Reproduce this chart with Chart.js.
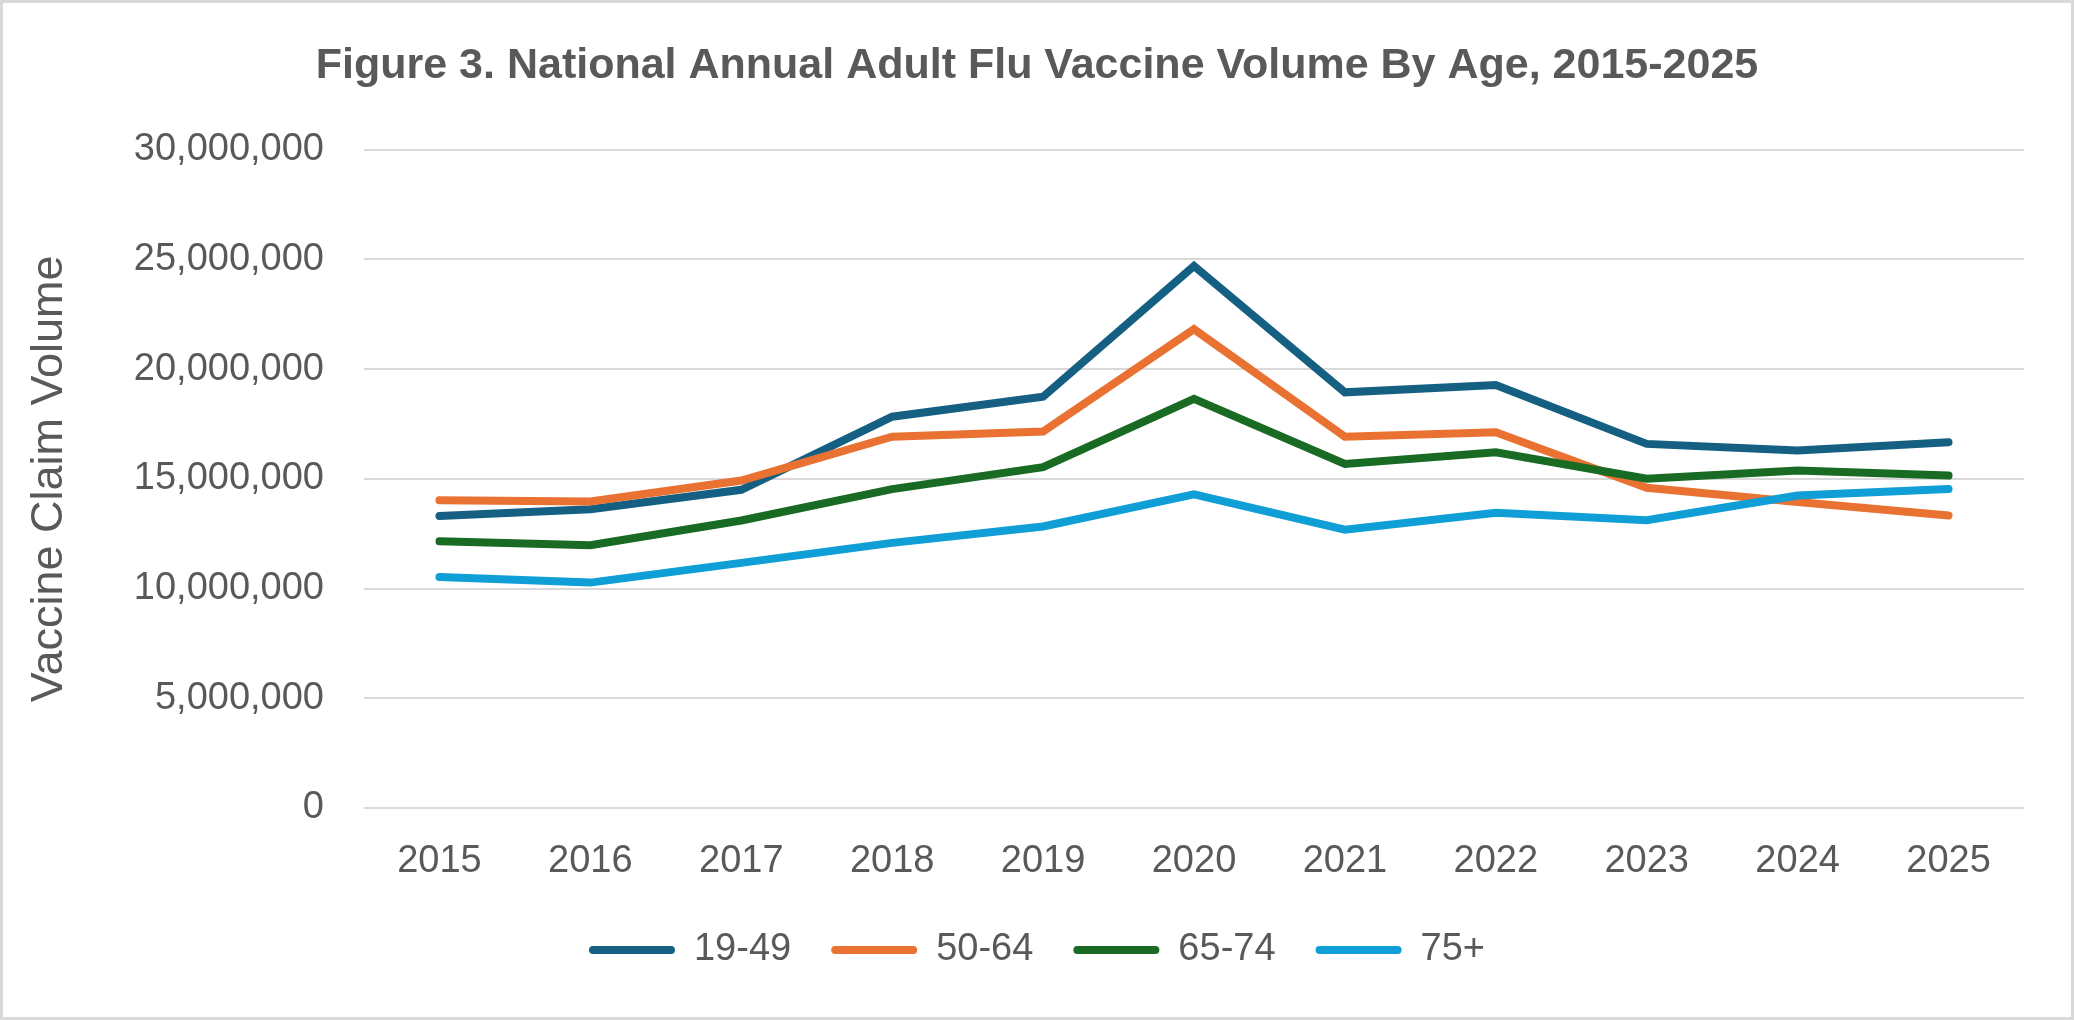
<!DOCTYPE html>
<html>
<head>
<meta charset="utf-8">
<script src="https://cdn.jsdelivr.net/npm/chart.js@4/dist/chart.umd.min.js"></script>
<style>
  html, body { margin: 0; padding: 0; background: #fff; }
  canvas { display: block; }
</style>
</head>
<body>
<canvas id="ChartFlu" width="2074" height="1020"></canvas>
<script>
// years on the x axis
const years = ["2015", "2016", "2017", "2018", "2019", "2020", "2021", "2022", "2023", "2024", "2025"];
// claim volumes per age group
const age19to49 = [13300000, 13610000, 14500000, 17830000, 18740000, 24700000, 18940000, 19270000, 16590000, 16290000, 16670000];
const age50to64 = [14020000, 13970000, 14920000, 16920000, 17150000, 21820000, 16920000, 17120000, 14590000, 13940000, 13330000];
const age65to74 = [12150000, 11970000, 13100000, 14530000, 15530000, 18640000, 15680000, 16210000, 15000000, 15380000, 15150000];
const age75plus = [10520000, 10270000, 11170000, 12080000, 12830000, 14290000, 12680000, 13450000, 13110000, 14240000, 14530000];
const seriesNames = ["19-49", "50-64", "65-74", "75+"];
const seriesColors = ["#156082", "#E97132", "#196B24", "#0F9ED5"];
const yTicks = [0, 5000000, 10000000, 15000000, 20000000, 25000000, 30000000];

const grey = "#595959";
const fontFamily = "'Liberation Sans', Arial, sans-serif";

const allSeries = [age19to49, age50to64, age65to74, age75plus];
const datasets = allSeries.map((data, i) => ({
  label: seriesNames[i],
  data: data,
  borderColor: seriesColors[i],
  backgroundColor: seriesColors[i],
  borderWidth: 8,
  borderCapStyle: "round",
  borderJoinStyle: "miter",
  pointRadius: 0,
  tension: 0,
  order: allSeries.length - i, // later series drawn on top, like Excel
}));

const frame = {
  id: "frame",
  afterDraw(chart) {
    const ctx = chart.ctx;
    ctx.save();
    ctx.strokeStyle = "#D9D9D9";
    ctx.lineWidth = 3;
    ctx.strokeRect(1.5, 1.5, chart.width - 3, chart.height - 3);
    ctx.restore();
  },
};

new Chart(document.getElementById("ChartFlu"), {
  type: "line",
  data: { labels: years, datasets: datasets },
  plugins: [frame],
  options: {
    responsive: false,
    animation: false,
    devicePixelRatio: 1,
    layout: { padding: { top: 20, left: 0, right: 0, bottom: 41 } },
    plugins: {
      title: {
        display: true,
        text: "Figure 3. National Annual Adult Flu Vaccine Volume By Age, 2015-2025",
        color: grey,
        font: { family: fontFamily, size: 43, weight: "bold" },
        padding: { top: 20, bottom: 58 },
      },
      legend: {
        position: "bottom",
        labels: {
          color: grey,
          font: { family: fontFamily, size: 38 },
          boxWidth: 86,
          boxHeight: 8,
          useBorderRadius: true,
          borderRadius: 4,
          padding: 40,
          sort: (a, b) => a.datasetIndex - b.datasetIndex,
          generateLabels: (chart) =>
            Chart.defaults.plugins.legend.labels.generateLabels(chart).map((l) => ({ ...l, lineWidth: 0 })),
        },
      },
      tooltip: { enabled: false },
    },
    scales: {
      x: {
        offset: true,
        grid: { display: false, drawTicks: false },
        border: { display: false },
        ticks: { color: grey, font: { family: fontFamily, size: 38 }, padding: 31, maxRotation: 0 },
        afterFit(scale) {
          scale.height = 83;
          scale.paddingRight = 50;
        },
      },
      y: {
        min: 0,
        max: 30000000,
        afterBuildTicks(scale) {
          scale.ticks = yTicks.map((v) => ({ value: v }));
        },
        grid: { color: "#D9D9D9", lineWidth: 2, drawTicks: false },
        border: { display: false },
        ticks: {
          color: grey,
          font: { family: fontFamily, size: 38 },
          padding: 40,
          callback: (v) => Number(v).toLocaleString("en-US"),
        },
        title: {
          display: true,
          text: "Vaccine Claim Volume",
          color: grey,
          font: { family: fontFamily, size: 45 },
          padding: { top: 23, bottom: 0 },
        },
        afterFit(scale) {
          scale.width = 364;
        },
      },
    },
  },
});
</script>
</body>
</html>
